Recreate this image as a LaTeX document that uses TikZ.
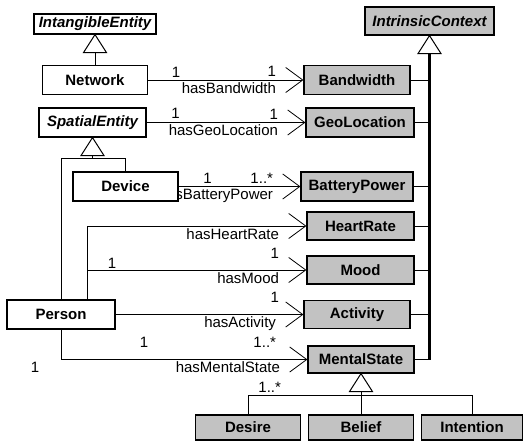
\documentclass[tikz,border=0pt]{standalone}
\usepackage{fontspec}
\setmainfont{Liberation Sans}
\usepackage{tikz}
\usetikzlibrary{calc}
\usetikzlibrary{backgrounds}
\usetikzlibrary{arrows.meta}
\usetikzlibrary{positioning}
\definecolor{ctxgray}{gray}{0.76}

\begin{document}
\begin{tikzpicture}[x=1pt,y=-1pt]
    \tikzstyle{every node}=[font=\fontsize{15}{18}\selectfont,inner sep=0pt]
    \tikzstyle{every path}=[line width=0.8pt]
    \tikzstyle{cls}=[draw=black,line width=1.2pt,fill=white,font=\fontsize{15}{18}\selectfont\bfseries,minimum height=29]
    \tikzstyle{ctx}=[cls,fill=ctxgray]
    \tikzstyle{abs}=[cls,font=\fontsize{15}{18}\selectfont\bfseries\itshape]
    \tikzstyle{assoc}=[-{Straight Barb[length=17pt,width=25pt,line width=0.8pt]}]
    \tikzstyle{lbl}=[anchor=north east]
    \tikzstyle{mult}=[anchor=south east]

    \useasboundingbox (0,0) rectangle (524,441) ;

    % left side classes
    \node[abs,minimum width=122,minimum height=20] (intangible) at (95,24) {IntangibleEntity} ;
    \node[cls,minimum width=105] (network) at (95,80) {Network} ;
    \node[abs,minimum width=107] (spatial) at (92.5,122.5) {SpatialEntity} ;
    \node[cls,minimum width=105] (device) at (125.5,186.5) {Device} ;
    \node[cls,minimum width=108] (person) at (61,314.5) {Person} ;

    % context classes
    \node[abs,fill=ctxgray,minimum width=129,minimum height=28] (intrinsic) at (429.5,21) {IntrinsicContext} ;
    \node[ctx,minimum width=106] (bandwidth) at (357,80) {Bandwidth} ;
    \node[ctx,minimum width=108] (geo) at (360,122.5) {GeoLocation} ;
    \node[ctx,minimum width=112] (battery) at (357,186.5) {BatteryPower} ;
    \node[ctx,minimum width=107,minimum height=28] (heart) at (360.5,226) {HeartRate} ;
    \node[ctx,minimum width=107,minimum height=28] (mood) at (360.5,270) {Mood} ;
    \node[ctx,minimum width=106,minimum height=28] (activity) at (357,314.5) {Activity} ;
    \node[ctx,minimum width=106,minimum height=27] (mental) at (361,359.5) {MentalState} ;

    \node[ctx,minimum width=105,minimum height=25] (desire) at (248,427.5) {Desire} ;
    \node[ctx,minimum width=105,minimum height=25] (belief) at (361,427.5) {Belief} ;
    \node[ctx,minimum width=101,minimum height=25] (intention) at (472,427.5) {Intention} ;

    \newcommand{\genhead}[1]{%
      \draw[line width=1pt,fill=white] (#1.south) -- ++(-11.5,18) -- ++(23,0) -- cycle ;}
    \newcommand{\rolename}[3]{%
      \node[lbl] (#1) at ([xshift=-27pt,yshift=-2pt]#2.west) {#3} ;}
    \newcommand{\multlabel}[3]{%
      \node[mult] (#1) at ([xshift=-27pt,yshift=3pt]#2.west) {#3} ;}

    % role names and multiplicities, under the boxes
    \begin{scope}[on background layer]
      \rolename{rbw}{bandwidth}{hasBandwidth}
      \rolename{rgeo}{geo}{hasGeoLocation}
      \rolename{rbat}{battery}{hasBatteryPower}
      \rolename{rhr}{heart}{hasHeartRate}
      \rolename{rmood}{mood}{hasMood}
      \rolename{ract}{activity}{hasActivity}
      \rolename{rms}{mental}{hasMentalState}
    \end{scope}

    \multlabel{mbw}{bandwidth}{1}
    \multlabel{mgeo}{geo}{1}
    \multlabel{mbat}{battery}{1..*}
    \node[lbl] (mhr) at ([xshift=-27pt,yshift=-22pt]heart.west) {1} ;
    \node[lbl] (mmood) at ([xshift=-27pt,yshift=-22pt]mood.west) {1} ;
    \node[lbl] (mact) at ([xshift=-27pt,yshift=-22pt]activity.west) {1..*} ;
    \node[lbl] (mms) at ([xshift=-26pt,yshift=-22pt]mental.west) {1..*} ;

    \node[anchor=south] (snet) at ([xshift=28pt,yshift=2pt]network.east) {1} ;
    \node[anchor=south] (sspa) at ([xshift=29pt,yshift=4pt]spatial.east) {1} ;
    \node[anchor=south] (sdev) at ([xshift=29pt,yshift=3pt]device.east) {1} ;
    \node[anchor=south] (smood) at (112,269) {1} ;
    \node[anchor=south] (sact) at (144,348) {1} ;
    \node (sms) at (35,367) {1} ;

    % associations
    \draw[assoc] (network) -- (bandwidth) ;
    \draw[assoc] (spatial) -- (geo) ;
    \draw[assoc] (device) -- (battery) ;
    \draw[assoc] ([xshift=26pt]person.north) |- (heart) ;
    \draw[assoc] ([xshift=26pt]person.north) |- (mood) ;
    \draw[assoc] (person) -- (activity) ;
    \draw[assoc] (person.south) |- (mental) ;

    % generalizations
    \draw (intangible.south) -- (network.north) ;
    \genhead{intangible}

    \coordinate (spjoin) at ([yshift=-21pt]spatial.south) ;
    \draw (spatial.south) -- (spjoin) -| (device.north) ;
    \draw (spjoin) -| (person.north) ;
    \genhead{spatial}

    \draw[line width=2.2pt] ([yshift=-18pt]intrinsic.south) -- (intrinsic.south |- mental.east) ;
    \foreach \c in {bandwidth,geo,battery,heart,mood,activity,mental}
      \draw (\c.east) -- (\c.east -| intrinsic.south) ;
    \genhead{intrinsic}

    \coordinate (msjoin) at ([yshift=-22pt]mental.south) ;
    \draw (mental.south) -- (msjoin) ;
    \draw (desire.north) |- (msjoin) -| (intention.north) ;
    \draw (msjoin) -- (belief.north) ;
    \genhead{mental}

\end{tikzpicture}
\end{document}
